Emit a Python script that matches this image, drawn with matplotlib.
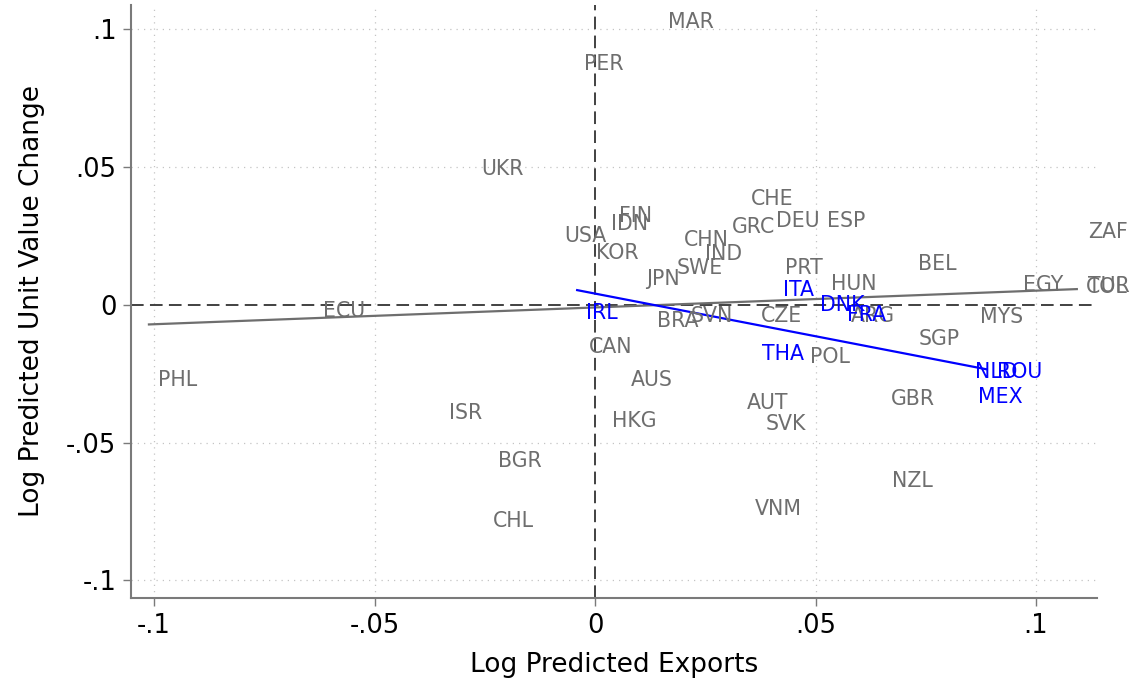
import numpy as np
import matplotlib
matplotlib.use("Agg")
import matplotlib.pyplot as plt

# ----- data -----

# gray group
gray_names = ['MAR', 'PER', 'UKR', 'CHE', 'FIN', 'IDN', 'DEU', 'ESP', 'GRC', 'USA',
              'CHN', 'ZAF', 'IND', 'KOR', 'BEL', 'PRT', 'SWE', 'JPN', 'HUN', 'EGY',
              'TUR', 'COL', 'ECU', 'ARG', 'MYS', 'BRA', 'SVN', 'CZE', 'SGP', 'CAN',
              'POL', 'PHL', 'AUS', 'GBR', 'AUT', 'ISR', 'HKG', 'SVK', 'BGR', 'NZL',
              'VNM', 'CHL']
gray_x = [0.0143, -0.0048, -0.0281, 0.0331, 0.0032, 0.0014, 0.0388, 0.0503, 0.0288, -0.0093,
          0.0179, 0.1095, 0.0227, -0.0020, 0.0710, 0.0408, 0.0163, 0.0093, 0.0512, 0.0948,
          0.1095, 0.1091, -0.0639, 0.0558, 0.0850, 0.0118, 0.0195, 0.0354, 0.0712, -0.0036,
          0.0465, -0.1014, 0.0059, 0.0649, 0.0322, -0.0354, 0.0016, 0.0365, -0.0243, 0.0651,
          0.0340, -0.0254]
gray_y = [0.1027, 0.0875, 0.0494, 0.0385, 0.0323, 0.0294, 0.0305, 0.0305, 0.0283, 0.0250,
          0.0236, 0.0265, 0.0185, 0.0189, 0.0149, 0.0134, 0.0134, 0.0094, 0.0076, 0.0073,
          0.0069, 0.0065, -0.0022, -0.0040, -0.0044, -0.0058, -0.0040, -0.0040, -0.0123, -0.0152,
          -0.0189, -0.0272, -0.0272, -0.0341, -0.0356, -0.0392, -0.0421, -0.0432, -0.0566, -0.0639,
          -0.0740, -0.0784]

# blue group
blue_names = ['IRL', 'ITA', 'DNK', 'FRA', 'THA', 'NLD', 'ROU', 'MEX']
blue_x = [-0.0043, 0.0404, 0.0488, 0.0549, 0.0356, 0.0839, 0.0889, 0.0846]
blue_y = [-0.0029, 0.0054, 0.0000, -0.0036, -0.0178, -0.0243, -0.0243, -0.0334]

ticks = [-0.1, -0.05, 0, 0.05, 0.1]
tick_labels = ['-.1', '-.05', '0', '.05', '.1']

GRAY = '#6e6e6e'
BLUE = '#0000ff'

# ----- figure -----

fig = plt.figure(figsize=(11.34, 6.81), dpi=100)
ax = fig.add_axes([0.1155, 0.1219, 0.8519, 0.8708])

ax.set_xlim(-0.10522, 0.11383)
ax.set_ylim(-0.10635, 0.10889)

# dotted grid at the non-zero ticks
for t in ticks:
    if t != 0:
        ax.axvline(t, color='#c4c4c4', lw=0.9, linestyle=(0, (1, 4)), zorder=0)
        ax.axhline(t, color='#c4c4c4', lw=0.9, linestyle=(0, (1, 4)), zorder=0)

# dashed reference lines at zero
ax.axvline(0, color='#333333', lw=1.3, linestyle=(0, (7, 3.5)), zorder=1)
ax.axhline(0, color='#333333', lw=1.3, linestyle=(0, (7, 3.5)), zorder=1)


def draw_group(xs, ys, names, col):
    xs = np.array(xs)
    ys = np.array(ys)
    # labels to the right of (invisible) markers
    for n, x, y in zip(names, xs, ys):
        ax.annotate(n, (x, y), xytext=(7.2, 0), textcoords='offset points',
                    ha='left', va='center', fontsize=14.8, color=col,
                    annotation_clip=False, zorder=3)
    # linear fit over the group's range
    b, a = np.polyfit(xs, ys, 1)
    xx = np.array([xs.min(), xs.max()])
    ax.plot(xx, a + b * xx, color=col, lw=1.6, zorder=2, solid_capstyle='butt')


draw_group(gray_x, gray_y, gray_names, GRAY)
draw_group(blue_x, blue_y, blue_names, BLUE)

# axes styling
for s in ['top', 'right']:
    ax.spines[s].set_visible(False)
for s in ['left', 'bottom']:
    ax.spines[s].set_color('#7a7a7a')
    ax.spines[s].set_linewidth(1.5)

ax.set_xticks(ticks)
ax.set_xticklabels(tick_labels)
ax.set_yticks(ticks)
ax.set_yticklabels(tick_labels)
ax.tick_params(axis='both', direction='out', length=5.5, width=1.0, color='#7a7a7a',
               labelsize=18.5, labelcolor='black', pad=5)

ax.set_xlabel('Log Predicted Exports', fontsize=19, labelpad=10)
ax.set_ylabel('Log Predicted Unit Value Change', fontsize=19, labelpad=15)

fig.savefig('out.png', dpi=100)
